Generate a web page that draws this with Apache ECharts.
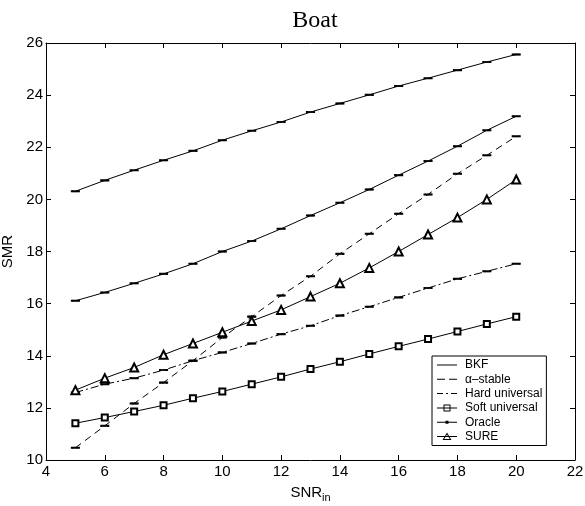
<!DOCTYPE html>
<html>
<head>
<meta charset="utf-8">
<script src="https://cdn.jsdelivr.net/npm/echarts@6/dist/echarts.min.js"></script>
<style>html,body{margin:0;padding:0;background:#fff}#c{width:585px;height:506px}</style>
</head>
<body>
<div id="c"></div>
<script>
const snrIn = [5, 6, 7, 8, 9, 10, 11, 12, 13, 14, 15, 16, 17, 18, 19, 20];
const bkf = [20.31, 20.73, 21.12, 21.50, 21.86, 22.27, 22.63, 22.97, 23.35, 23.68, 24.01, 24.35, 24.65, 24.96, 25.27, 25.56];
const oracle = [16.11, 16.43, 16.78, 17.14, 17.53, 18.00, 18.40, 18.87, 19.38, 19.87, 20.38, 20.93, 21.47, 22.04, 22.65, 23.19];
const alphaStable = [10.47, 11.31, 12.17, 12.97, 13.81, 14.70, 15.50, 16.31, 17.05, 17.91, 18.68, 19.45, 20.19, 20.98, 21.69, 22.42];
const sure = [12.68, 13.14, 13.55, 14.04, 14.47, 14.90, 15.33, 15.76, 16.27, 16.78, 17.37, 18.00, 18.65, 19.30, 20.00, 20.76];
const hardUniversal = [12.59, 12.91, 13.14, 13.45, 13.81, 14.13, 14.47, 14.83, 15.15, 15.54, 15.88, 16.24, 16.60, 16.95, 17.24, 17.53];
const softUniversal = [11.41, 11.63, 11.86, 12.10, 12.37, 12.63, 12.91, 13.19, 13.49, 13.77, 14.07, 14.36, 14.64, 14.93, 15.22, 15.50];
const xTicks = {min: 4, max: 22, step: 2};
const yTicks = {min: 10, max: 26, step: 2};
const legendNames = ['BKF', 'α\u2013stable', 'Hard universal', 'Soft universal', 'Oracle', 'SURE'];

const pairs = ys => snrIn.map((x, i) => [x, ys[i]]);
const SANS = 'Liberation Sans, Arial, Helvetica, sans-serif';
const BOX = 'M0,0M20,10';
const icons = {
  line: 'path://' + BOX + 'M0,4.5h20v1h-20z',
  dash: 'path://' + BOX + 'M0,4.5h8v1h-8zM12,4.5h8v1h-8z',
  dashdot: 'path://' + BOX + 'M0,4.5h6v1h-6zM9,4.5h2v1h-2zM14,4.5h6v1h-6z',
  square: 'path://' + BOX + 'M0,4.5h20v1h-20zM6.5,1.5h7v7h-7zM7.5,2.5v5h5v-5z',
  dot: 'path://' + BOX + 'M0,4.5h20v1h-20zM8.5,3.5h3v3h-3z',
  tri: 'path://' + BOX + 'M0,4.5h20v1h-20zM10,1L14.5,8.5L5.5,8.5ZM10,3L7.2,7.5L12.8,7.5Z'
};
const errTick = {symbol: 'rect', symbolSize: [7, 1.6]};
function ser(name, ys, dash, sym) {
  return Object.assign({
    name: name, type: 'line', data: pairs(ys),
    showSymbol: true, silent: true, animation: false,
    lineStyle: {color: '#000', width: 1, type: dash},
    itemStyle: {color: '#000', borderColor: '#000', borderWidth: 1}
  }, sym);
}
const axisCommon = {
  axisLine: {show: true, onZero: false, lineStyle: {color: '#000', width: 1}},
  axisTick: {show: true, inside: true, length: 5, lineStyle: {color: '#000'}},
  splitLine: {show: false}
};
const chart = echarts.init(document.getElementById('c'), null, {renderer: 'canvas'});
chart.setOption({
  backgroundColor: '#fff',
  animation: false,
  title: {
    text: 'Boat', left: 310, top: 4, textAlign: 'center',
    textStyle: {fontFamily: 'Liberation Serif, Times New Roman, serif', fontSize: 24, fontWeight: 'normal', color: '#000'}
  },
  grid: {left: 46, right: 10, top: 43, bottom: 46, containLabel: false, outerBoundsMode: 'none'},
  legend: {
    orient: 'vertical', left: 432, top: 356,
    itemWidth: 20, itemHeight: 10, itemGap: 2.3,
    padding: [3, 4, 3, 5],
    borderColor: '#000', borderWidth: 1, backgroundColor: '#fff',
    selectedMode: false,
    itemStyle: {borderWidth: 0},
    textStyle: {fontFamily: SANS, fontSize: 12, lineHeight: 12, color: '#000', padding: [0, 0, 0, 3]},
    data: [
      {name: legendNames[0], icon: icons.line},
      {name: legendNames[1], icon: icons.dash},
      {name: legendNames[2], icon: icons.dashdot},
      {name: legendNames[3], icon: icons.square},
      {name: legendNames[4], icon: icons.dot},
      {name: legendNames[5], icon: icons.tri}
    ]
  },
  xAxis: [
    Object.assign({
      type: 'value', position: 'bottom', min: xTicks.min, max: xTicks.max, interval: xTicks.step,
      name: '{a|SNR}{b|in}', nameLocation: 'middle', nameGap: 22,
      nameTextStyle: {rich: {a: {fontFamily: SANS, fontSize: 15, color: '#000'}, b: {fontFamily: SANS, fontSize: 11, color: '#000', padding: [10, 0, 0, 0]}}},
      axisLabel: {fontFamily: SANS, fontSize: 15, color: '#000', margin: 4}
    }, axisCommon),
    Object.assign({
      type: 'value', position: 'top', min: xTicks.min, max: xTicks.max, interval: xTicks.step,
      axisLabel: {show: false}
    }, axisCommon)
  ],
  yAxis: [
    Object.assign({
      type: 'value', position: 'left', min: yTicks.min, max: yTicks.max, interval: yTicks.step,
      name: 'SMR', nameLocation: 'middle', nameGap: 25,
      nameTextStyle: {fontFamily: SANS, fontSize: 15, color: '#000'},
      axisLabel: {fontFamily: SANS, fontSize: 15, color: '#000', margin: 3}
    }, axisCommon),
    Object.assign({
      type: 'value', position: 'right', min: yTicks.min, max: yTicks.max, interval: yTicks.step,
      axisLabel: {show: false}
    }, axisCommon)
  ],
  series: [
    ser(legendNames[0], bkf, 'solid', errTick),
    ser(legendNames[1], alphaStable, [7, 5], errTick),
    ser(legendNames[2], hardUniversal, [8, 3, 2, 3], errTick),
    ser(legendNames[3], softUniversal, 'solid', {symbol: 'emptyRect', symbolSize: 6}),
    ser(legendNames[4], oracle, 'solid', errTick),
    ser(legendNames[5], sure, 'solid', {symbol: 'emptyTriangle', symbolSize: 8, itemStyle: {color: '#000', borderColor: '#000', borderWidth: 1.2}})
  ]
});
</script>
</body>
</html>
